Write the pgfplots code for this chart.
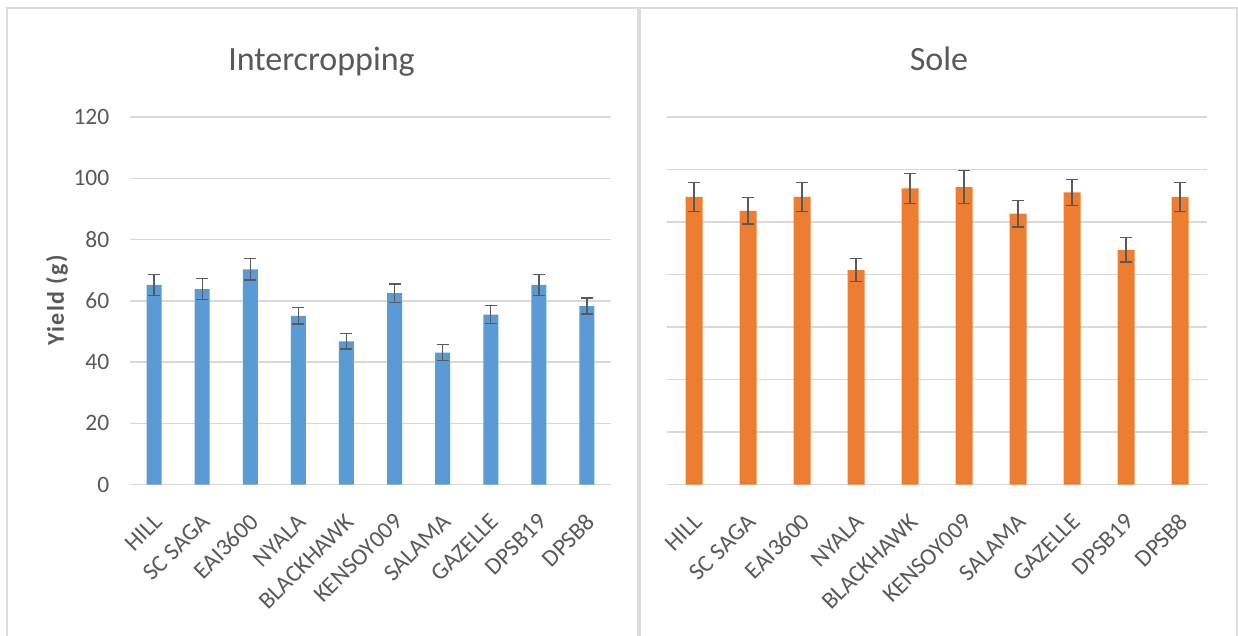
\documentclass[border=0pt]{standalone}
\usepackage{fontspec}
\setmainfont{Carlito}
\usepackage{pgfplots}
\usepackage{pgfplotstable}
\pgfplotsset{compat=1.18}
\definecolor{bblue}{HTML}{5B9BD5}
\definecolor{borange}{HTML}{ED7D31}
\definecolor{tgray}{HTML}{595959}
\definecolor{ggray}{HTML}{D9D9D9}
\definecolor{egray}{HTML}{595959}
\definecolor{pgray}{HTML}{DCDCDC}

\pgfplotstableread{
x y e
0 65.2 3.4
1 63.8 3.4
2 70.3 3.5
3 55.1 2.7
4 46.8 2.5
5 62.5 3.0
6 43.1 2.6
7 55.5 3.0
8 65.2 3.4
9 58.3 2.6
}\intertable

\pgfplotstableread{
x y e
0 109.6 5.5
1 104.3 5.0
2 109.6 5.5
3 81.7 4.3
4 112.8 5.7
5 113.3 6.2
6 103.2 5.1
7 111.3 5.0
8 89.4 4.6
9 109.6 5.5
}\soletable

\pgfplotsset{
  myaxis/.style={
    anchor=south west, scale only axis,
    xmin=-0.5, xmax=9.5, ymin=0,
    enlargelimits=false,
    xtick={0,...,9},
    xticklabels={HILL,SC SAGA,EAI3600,NYALA,BLACKHAWK,KENSOY009,SALAMA,GAZELLE,DPSB19,DPSB8},
    axis line style={draw=none},
    major tick style={draw=none},
    ymajorgrids, grid style={ggray, line width=1.5pt},
    xticklabel style={yshift=-33pt, xshift=4pt, rotate=45, anchor=east, inner sep=0pt,
      font=\fontsize{24}{24}\selectfont, text=tgray},
    yticklabel style={inner sep=0pt, xshift=-20.5pt, anchor=east,
      font=\fontsize{23.5}{23.5}\selectfont, text=tgray},
    /pgf/number format/assume math mode=true,
    clip=false,
    error bars/error bar style={egray, line width=1.3pt},
    error bars/error mark options={egray, line width=1.3pt, mark size=6pt, rotate=90},
  }
}

\begin{document}
\begin{tikzpicture}
\useasboundingbox (0pt,0pt) rectangle (1238pt,636pt);
\fill[white] (0pt,0pt) rectangle (1238pt,636pt);
\draw[pgray, line width=2.2pt] (7pt,-5pt) -- (7pt,627.7pt) -- (638.3pt,627.7pt) -- (638.3pt,-5pt);
\draw[pgray, line width=2.2pt] (640.3pt,-5pt) -- (640.3pt,627.7pt) -- (1236.8pt,627.7pt) -- (1236.8pt,-5pt);

\begin{axis}[myaxis, at={(130pt,151.3pt)}, width=481pt, height=367.7pt,
  ymax=120, ytick={0,20,...,120}]
\addplot[ybar, bar width=15pt, fill=bblue, draw=none,
  error bars/.cd, y dir=both, y explicit]
  table[x=x, y=y, y error=e]{\intertable};
\end{axis}

\begin{axis}[myaxis, at={(667pt,151.3pt)}, width=540pt, height=367.7pt,
  ymax=140, ytick={0,20,...,140}, yticklabels={}]
\addplot[ybar, bar width=17pt, fill=borange, draw=none,
  error bars/.cd, y dir=both, y explicit]
  table[x=x, y=y, y error=e]{\soletable};
\end{axis}

\node[anchor=base, font=\fontsize{34}{34}\selectfont, text=tgray] at (321.5pt,565.3pt) {Intercropping};
\node[anchor=base, font=\fontsize{34}{34}\selectfont, text=tgray] at (939pt,565.3pt) {Sole};
\node[rotate=90, font=\bfseries\fontsize{24}{24}\selectfont\addfontfeature{LetterSpace=6}, text=tgray] at (57pt,335.5pt) {Yield (g)};
\end{tikzpicture}
\end{document}
